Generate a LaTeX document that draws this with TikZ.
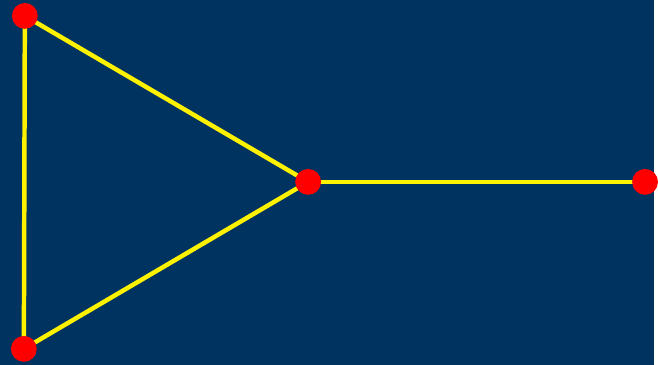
\documentclass[tikz,border=0pt]{standalone}
\usepackage{xcolor}
\usepackage{tikz}

\definecolor{bgblue}{RGB}{0,51,96}
\pgfdeclarelayer{bg}
\pgfdeclarelayer{edges}
\pgfsetlayers{bg,edges,main}

\begin{document}
\begin{tikzpicture}[
  x=1pt, y=-1pt,
  vertex/.style={circle, fill=red, minimum size=26pt, inner sep=0pt},
  edge/.style={draw=yellow, line width=4.5pt}
]
  \node[vertex] (t) at (25,16) {};
  \node[vertex] (b) at (24,351) {};
  \node[vertex] (c) at (310,183) {};
  \node[vertex] (r) at (649,183) {};
  \begin{pgfonlayer}{edges}
    \draw[edge] (t.center) -- (b.center);
    \draw[edge] (t.center) -- (c.center);
    \draw[edge] (b.center) -- (c.center);
    \draw[edge] (c.center) -- (r.center);
  \end{pgfonlayer}
  \begin{pgfonlayer}{bg}
    \fill[bgblue] (0,0) rectangle (658,367);
  \end{pgfonlayer}
  \useasboundingbox (0,0) rectangle (658,367);
\end{tikzpicture}
\end{document}
